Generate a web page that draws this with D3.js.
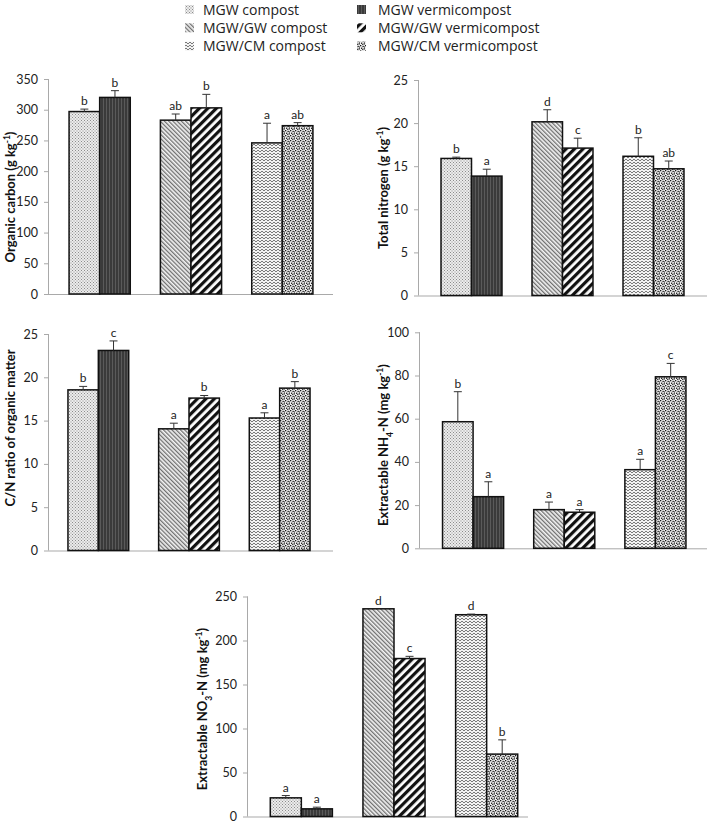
<!DOCTYPE html>
<html><head><meta charset="utf-8">
<script src="https://cdn.jsdelivr.net/npm/d3@7/dist/d3.min.js"></script>
<style>body{margin:0;background:#fff}svg{display:block}</style>
</head><body>
<svg id="c" width="709" height="823"></svg>
<script>
// ---------- DATA ----------
const groups = ["MGW", "MGW/GW", "MGW/CM"];
const seriesNames = ["MGW compost", "MGW vermicompost", "MGW/GW compost", "MGW/GW vermicompost", "MGW/CM compost", "MGW/CM vermicompost"];
const kinds = ["compost", "vermicompost"];

const orgCarbon = [297, 320, 283, 303, 246, 274];
const orgCarbonErr = [4, 11, 10, 22, 32, 5];
const orgCarbonLetters = ["b", "b", "ab", "b", "a", "ab"];
const orgCarbonTicks = [0, 50, 100, 150, 200, 250, 300, 350];

const totalN = [15.9, 13.85, 20.15, 17.1, 16.15, 14.7];
const totalNErr = [0.15, 0.8, 1.4, 1.15, 2.15, 0.9];
const totalNLetters = ["b", "a", "d", "c", "b", "ab"];
const totalNTicks = [0, 5, 10, 15, 20, 25];

const cnRatio = [18.55, 23.1, 14.05, 17.6, 15.3, 18.75];
const cnRatioErr = [0.4, 1.1, 0.65, 0.3, 0.6, 0.75];
const cnRatioLetters = ["b", "c", "a", "b", "a", "b"];
const cnRatioTicks = [0, 5, 10, 15, 20, 25];

const nh4 = [58.6, 23.9, 17.9, 16.7, 36.4, 79.4];
const nh4Err = [13.9, 6.9, 3.5, 1.2, 4.8, 6.2];
const nh4Letters = ["b", "a", "a", "a", "a", "c"];
const nh4Ticks = [0, 20, 40, 60, 80, 100];

const no3 = [21.2, 8.7, 236, 179.5, 229.3, 70.9];
const no3Err = [2.6, 1.9, 0, 2.5, 0.7, 16.2];
const no3Letters = ["a", "a", "d", "c", "d", "b"];
const no3Ticks = [0, 50, 100, 150, 200, 250];

// ---------- LAYOUT ----------
const panels = [
  {vals: orgCarbon, err: orgCarbonErr, let: orgCarbonLetters, ticks: orgCarbonTicks,
   title: [["Organic carbon (g kg",""],["-1","sup"],[")",""]],
   ax0: 49, ax1: 333, band: [54, 328], yB: 294, yT: 79, tx: 15, ty: 197},
  {vals: totalN, err: totalNErr, let: totalNLetters, ticks: totalNTicks,
   title: [["Total nitrogen (g kg",""],["-1","sup"],[")",""]],
   ax0: 419, ax1: 707, band: [426, 699], yB: 295.5, yT: 80, tx: 388, ty: 188},
  {vals: cnRatio, err: cnRatioErr, let: cnRatioLetters, ticks: cnRatioTicks,
   title: [["C/N ratio of organic matter",""]],
   ax0: 49, ax1: 333, band: [53, 325], yB: 550.5, yT: 334, tx: 15, ty: 428},
  {vals: nh4, err: nh4Err, let: nh4Letters, ticks: nh4Ticks,
   title: [["Extractable NH",""],["4","sub"],["-N (mg kg",""],["-1","sup"],[")",""]],
   ax0: 420, ax1: 707, band: [427.5, 701], yB: 548.3, yT: 332.3, tx: 388, ty: 445},
  {vals: no3, err: no3Err, let: no3Letters, ticks: no3Ticks,
   title: [["Extractable NO",""],["3","sub"],["-N (mg kg",""],["-1","sup"],[")",""]],
   ax0: 248, ax1: 528, band: [255, 533], yB: 816.5, yT: 596.5, tx: 207, ty: 709}
];

const svg = d3.select("#c");
const defs = svg.append("defs");

// ---------- PATTERNS ----------
function pat(id, w, h, draw, tr) {
  const p = defs.append("pattern").attr("id", id).attr("patternUnits", "userSpaceOnUse")
    .attr("width", w).attr("height", h);
  if (tr) p.attr("patternTransform", tr);
  draw(p);
}
// 0: MGW compost - fine dotted light grey
pat("p0", 3, 3, p => {
  p.append("rect").attr("width", 3).attr("height", 3).attr("fill", "#ececec");
  p.append("rect").attr("width", 1).attr("height", 1).attr("fill", "#8c8c8c");
  p.append("rect").attr("x", 1.5).attr("y", 1.5).attr("width", 1).attr("height", 1).attr("fill", "#8c8c8c");
});
// 1: MGW vermicompost - dark with vertical lines
pat("p1", 3, 4, p => {
  p.append("rect").attr("width", 3).attr("height", 4).attr("fill", "#3a3a3a");
  p.append("rect").attr("x", 1).attr("width", 1).attr("height", 4).attr("fill", "#5a5a5a");
});
// 2: MGW/GW compost - fine "\" diagonals
pat("p2", 3, 3, p => {
  p.append("rect").attr("width", 3).attr("height", 3).attr("fill", "#f4f4f4");
  p.append("rect").attr("width", 1.3).attr("height", 3).attr("fill", "#707070");
}, "rotate(-45)");
// 3: MGW/GW vermicompost - thick "/" diagonals
pat("p3", 6, 6, p => {
  p.append("rect").attr("width", 6).attr("height", 6).attr("fill", "#ffffff");
  p.append("rect").attr("width", 3.2).attr("height", 6).attr("fill", "#111111");
}, "rotate(45)");
// 4: MGW/CM compost - wavy horizontal
pat("p4", 4, 3, p => {
  p.append("rect").attr("width", 4).attr("height", 3).attr("fill", "#f2f2f2");
  p.append("path").attr("d", "M0,2 L1,1 L2,0 L3,1 L4,2").attr("fill", "none")
    .attr("stroke", "#7a7a7a").attr("stroke-width", 1);
});
// 5: MGW/CM vermicompost - confetti dots
pat("p5", 5, 5, p => {
  p.append("rect").attr("width", 5).attr("height", 5).attr("fill", "#efefef");
  [[0,0],[2.5,0.8],[1,2.6],[3.6,3.2],[4.2,1.4],[2,4.2]].forEach(d =>
    p.append("rect").attr("x", d[0]).attr("y", d[1]).attr("width", 1.3).attr("height", 1.3).attr("fill", "#151515"));
});

// ---------- PANELS ----------
panels.forEach(P => {
  const g = svg.append("g");
  const y = d3.scaleLinear().domain([P.ticks[0], P.ticks[P.ticks.length - 1]]).range([P.yB, P.yT]);
  const x = d3.scaleBand().domain(groups).range(P.band).paddingInner(0).paddingOuter(0);
  const xs = d3.scaleBand().domain(kinds).range([0, x.bandwidth() * 0.67]);
  const off = x.bandwidth() * (1 - 0.67) / 2;

  // y axis
  const ax = g.append("g").attr("transform", `translate(${P.ax0},0)`)
    .call(d3.axisLeft(y).tickValues(P.ticks).tickSize(5).tickPadding(6).tickFormat(d3.format("d")));
  ax.select(".domain").attr("stroke", "#a9a9a9").attr("d", `M-0.5,${P.yB}V${P.yT}`);
  ax.selectAll(".tick line").attr("stroke", "#a9a9a9");
  ax.selectAll(".tick text").attr("fill", "#222").style("font-family", "Lato, 'Open Sans', sans-serif").style("font-size", "12.5px");
  // x axis line
  g.append("line").attr("x1", P.ax0).attr("x2", P.ax1).attr("y1", P.yB + 0.5).attr("y2", P.yB + 0.5)
    .attr("stroke", "#a9a9a9");

  const rows = P.vals.map((v, i) => ({v, e: P.err[i], l: P.let[i], grp: groups[Math.floor(i / 2)], k: kinds[i % 2], i}));
  const bx = d => x(d.grp) + off + xs(d.k);
  const bw = xs.bandwidth();

  g.selectAll("rect.bar").data(rows).join("rect").attr("class", "bar")
    .attr("x", bx).attr("width", bw)
    .attr("y", d => y(d.v)).attr("height", d => y(0) - y(d.v))
    .attr("fill", d => `url(#p${d.i})`).attr("stroke", "#111").attr("stroke-width", 1.5);

  // error bars (upper)
  const eb = g.selectAll("g.eb").data(rows.filter(d => d.e > 0)).join("g").attr("class", "eb");
  eb.append("line").attr("x1", d => bx(d) + bw / 2).attr("x2", d => bx(d) + bw / 2)
    .attr("y1", d => y(d.v)).attr("y2", d => y(d.v + d.e)).attr("stroke", "#333").attr("stroke-width", 1);
  eb.append("line").attr("x1", d => bx(d) + bw / 2 - 4).attr("x2", d => bx(d) + bw / 2 + 4)
    .attr("y1", d => y(d.v + d.e)).attr("y2", d => y(d.v + d.e)).attr("stroke", "#333").attr("stroke-width", 1);

  // letters
  g.selectAll("text.lt").data(rows).join("text").attr("class", "lt")
    .attr("x", d => bx(d) + bw / 2).attr("y", d => y(d.v + d.e) - 4)
    .attr("text-anchor", "middle").attr("fill", "#222")
    .style("font-family", "Lato, 'Open Sans', sans-serif").style("font-size", "12px")
    .text(d => d.l);

  // y title
  const t = g.append("text").attr("transform", `translate(${P.tx},${P.ty}) rotate(-90)`)
    .attr("text-anchor", "middle").attr("fill", "#111")
    .style("font-family", "Lato, 'Open Sans', sans-serif").style("font-size", "13px").style("font-weight", "bold");
  P.title.forEach(s => {
    const ts = t.append("tspan").text(s[0]);
    if (s[1] === "sup") ts.attr("baseline-shift", "super").style("font-size", "8.5px");
    if (s[1] === "sub") ts.attr("baseline-shift", "sub").style("font-size", "8.5px");
  });
});

// ---------- LEGEND ----------
const legPos = [[185, 203], [357, 378]];
const lg = svg.append("g");
seriesNames.forEach((name, i) => {
  const col = i % 2, row = Math.floor(i / 2);
  const yc = 9.5 + row * 18.3;
  lg.append("rect").attr("x", legPos[col][0]).attr("y", yc - 4.5).attr("width", 9).attr("height", 9)
    .attr("fill", `url(#p${i})`);
  lg.append("text").attr("x", legPos[col][1]).attr("y", yc + 5)
    .attr("fill", "#222").style("font-family", "'Open Sans', 'Noto Sans', sans-serif").style("font-size", "14px")
    .text(name);
});
</script>
</body></html>
